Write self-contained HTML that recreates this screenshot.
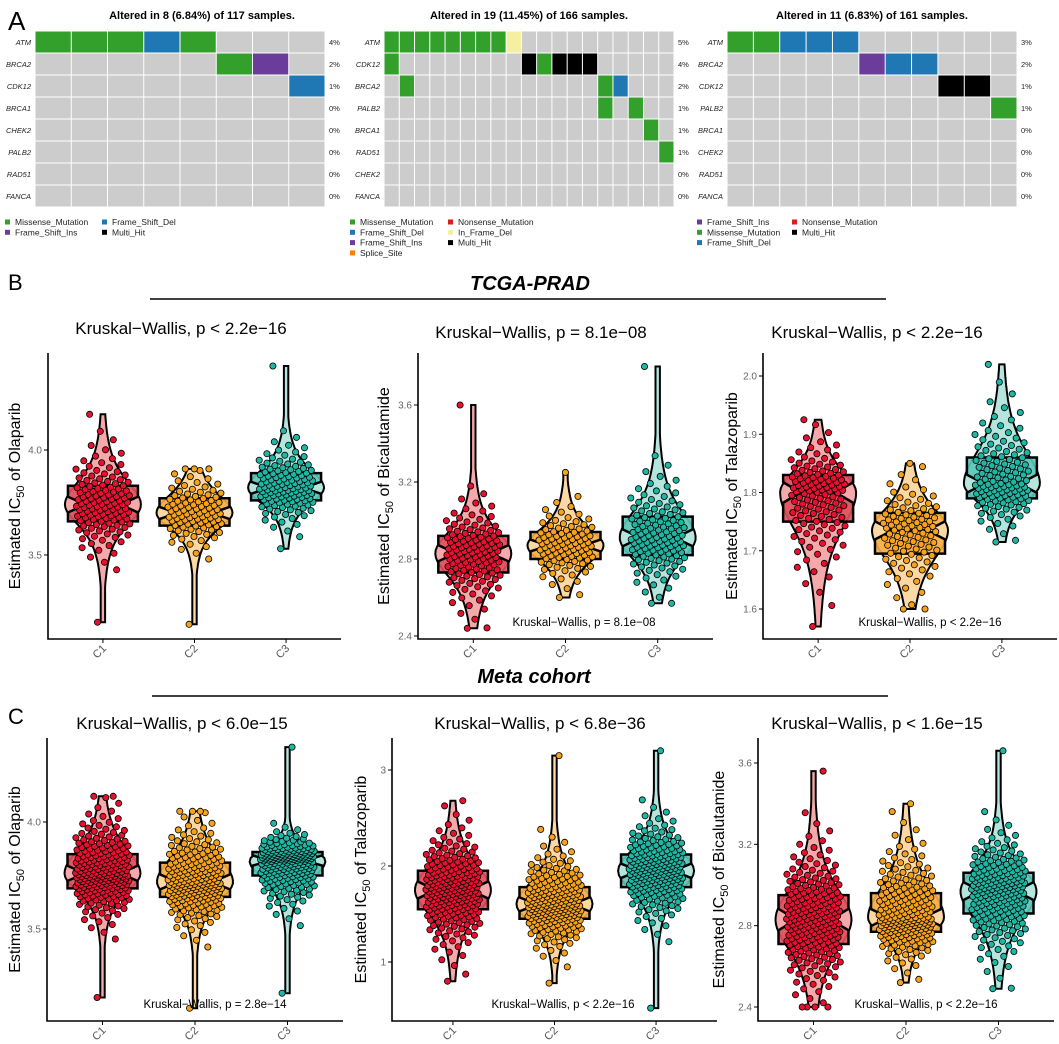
<!DOCTYPE html>
<html><head><meta charset="utf-8"><style>
html,body{margin:0;padding:0;background:#fff;}
svg{display:block;font-family:"Liberation Sans",Arial,sans-serif;}
</style></head><body>
<svg id="fig" width="1059" height="1044" viewBox="0 0 1059 1044" xmlns="http://www.w3.org/2000/svg">
<text x="8" y="30" font-size="26">A</text>
<text x="8" y="290" font-size="22">B</text>
<text x="8" y="724" font-size="22">C</text>
<text x="530" y="290" font-size="20" font-weight="bold" font-style="italic" text-anchor="middle">TCGA-PRAD</text>
<line x1="150" y1="299" x2="886" y2="299" stroke="#000" stroke-width="1.5"/>
<text x="534" y="683" font-size="20" font-weight="bold" font-style="italic" text-anchor="middle">Meta cohort</text>
<line x1="152" y1="696" x2="888" y2="696" stroke="#000" stroke-width="1.5"/>
<g id="onco"></g>
<g id="violins"></g>
</svg>
<script>
// ===== Oncoplot data =====
const oncoTitles = ["Altered in 8 (6.84%) of 117 samples.","Altered in 19 (11.45%) of 166 samples.","Altered in 11 (6.83%) of 161 samples."];
const oncoGenes1 = ["ATM","BRCA2","CDK12","BRCA1","CHEK2","PALB2","RAD51","FANCA"];
const oncoGenes2 = ["ATM","CDK12","BRCA2","PALB2","BRCA1","RAD51","CHEK2","FANCA"];
const oncoGenes3 = ["ATM","BRCA2","CDK12","PALB2","BRCA1","CHEK2","RAD51","FANCA"];
const oncoPct1 = ["4%","2%","1%","0%","0%","0%","0%","0%"];
const oncoPct2 = ["5%","4%","2%","1%","1%","1%","0%","0%"];
const oncoPct3 = ["3%","2%","1%","1%","0%","0%","0%","0%"];
const oncoMut1 = [[0,0,"M"],[0,1,"M"],[0,2,"M"],[0,3,"D"],[0,4,"M"],[1,5,"M"],[1,6,"I"],[2,7,"D"]];
const oncoMut2 = [[0,0,"M"],[0,1,"M"],[0,2,"M"],[0,3,"M"],[0,4,"M"],[0,5,"M"],[0,6,"M"],[0,7,"M"],[0,8,"F"],
 [1,0,"M"],[1,9,"X"],[1,10,"M"],[1,11,"X"],[1,12,"X"],[1,13,"X"],[2,1,"M"],[2,14,"M"],[2,15,"D"],[3,14,"M"],[3,16,"M"],[4,17,"M"],[5,18,"M"]];
const oncoMut3 = [[0,0,"M"],[0,1,"M"],[0,2,"D"],[0,3,"D"],[0,4,"D"],[1,5,"I"],[1,6,"D"],[1,7,"D"],[2,8,"X"],[2,9,"X"],[3,10,"M"]];
const oncoCols = [8,19,11];
const mutColor = {M:"#33a02c",D:"#1f78b4",I:"#6a3d9a",X:"#000000",F:"#f5f0a0",N:"#e31a1c",S:"#ff7f00"};
const leg1 = [["M","Missense_Mutation",0,0],["D","Frame_Shift_Del",1,0],["I","Frame_Shift_Ins",0,1],["X","Multi_Hit",1,1]];
const leg2 = [["M","Missense_Mutation",0,0],["N","Nonsense_Mutation",1,0],["D","Frame_Shift_Del",0,1],["F","In_Frame_Del",1,1],["I","Frame_Shift_Ins",0,2],["X","Multi_Hit",1,2],["S","Splice_Site",0,3]];
const leg3 = [["I","Frame_Shift_Ins",0,0],["N","Nonsense_Mutation",1,0],["M","Missense_Mutation",0,1],["X","Multi_Hit",1,1],["D","Frame_Shift_Del",0,2]];

const NS="http://www.w3.org/2000/svg";
function mk(tag,attrs,parent){const e=document.createElementNS(NS,tag);for(const k in attrs)e.setAttribute(k,attrs[k]);if(parent)parent.appendChild(e);return e;}

const oncoLayout=[{x:35,w:290,lx:5,lx2:102,cx:202},{x:384,w:290,lx:350,lx2:448,cx:529},{x:727,w:290,lx:697,lx2:792,cx:872}];
const oncoG=document.getElementById('onco');
[[oncoGenes1,oncoPct1,oncoMut1,leg1],[oncoGenes2,oncoPct2,oncoMut2,leg2],[oncoGenes3,oncoPct3,oncoMut3,leg3]].forEach((d,pi)=>{
  const L=oncoLayout[pi];const genes=d[0],pct=d[1],muts=d[2],leg=d[3];
  const g=mk('g',{},oncoG);
  
  
  const t=mk('text',{x:L.cx,y:19,'font-size':11,'font-weight':'bold','text-anchor':'middle'},g);t.textContent=oncoTitles[pi];
  
  
  const top=31,rh=22,nc=oncoCols[pi],cw=L.w/nc;
  const types={};muts.forEach(m=>types[m[0]+'_'+m[1]]=m[2]);
  for(let r=0;r<genes.length;r++){
    for(let c=0;c<nc;c++){
      const ty=types[r+'_'+c];
      const cell=mk('rect',{x:L.x+c*cw+0.5,y:top+r*rh+0.5,width:cw-1,height:rh-1,fill:ty?mutColor[ty]:'#cccccc'},g);
      
      
    }
    const gl=mk('text',{x:L.x-4,y:top+r*rh+rh/2+3,'font-size':7.5,'font-style':'italic','text-anchor':'end',fill:'#222'},g);gl.textContent=genes[r];
    
    
    const pl=mk('text',{x:L.x+L.w+4,y:top+r*rh+rh/2+3,'font-size':7.5,fill:'#222'},g);pl.textContent=pct[r];
    
    
  }
  leg.forEach(e=>{
    const lx=e[2]?L.lx2:L.lx, ly=223+e[3]*10.3;
    const lg=mk('g',{},g);
    
    
    mk('rect',{x:lx,y:ly-3.5,width:5,height:5,fill:mutColor[e[0]]},lg);
    const lt=mk('text',{x:lx+10,y:ly+2,'font-size':8.5,fill:'#222'},lg);lt.textContent=e[1];
  });
});

// ===== Violin data: [min,q1,median,q3,max] per group =====
const groups=["C1","C2","C3"];
const statsB1=[[3.18,3.66,3.74,3.83,4.17],[3.17,3.64,3.70,3.77,3.91],[3.53,3.76,3.82,3.89,4.40]];
const statsB2=[[2.44,2.73,2.83,2.92,3.60],[2.60,2.80,2.87,2.94,3.25],[2.57,2.82,2.91,3.02,3.80]];
const statsB3=[[1.57,1.75,1.80,1.83,1.925],[1.60,1.695,1.735,1.765,1.85],[1.715,1.79,1.815,1.86,2.02]];
const statsC1=[[3.18,3.69,3.76,3.85,4.12],[3.13,3.65,3.72,3.81,4.05],[3.20,3.75,3.82,3.86,4.35]];
const statsC2=[[0.80,1.55,1.75,1.95,2.68],[0.78,1.45,1.60,1.78,3.15],[0.52,1.78,1.95,2.12,3.20]];
const statsC3=[[2.40,2.71,2.83,2.95,3.56],[2.52,2.77,2.84,2.96,3.40],[2.49,2.86,2.97,3.06,3.66]];
const countsB=[130,100,130];
const countsC=[230,220,220];
const ticksB1=["3.5","4.0"],ticksB2=["2.4","2.8","3.2","3.6"],ticksB3=["1.6","1.7","1.8","1.9","2.0"];
const ticksC1=["3.5","4.0"],ticksC2=["1","2","3"],ticksC3=["2.4","2.8","3.2","3.6"];
const titles=["Kruskal\u2212Wallis, p < 2.2e\u221216","Kruskal\u2212Wallis, p = 8.1e\u221208","Kruskal\u2212Wallis, p < 2.2e\u221216","Kruskal\u2212Wallis, p < 6.0e\u221215","Kruskal\u2212Wallis, p < 6.8e\u221236","Kruskal\u2212Wallis, p < 1.6e\u221215"];
const inner=[null,"Kruskal\u2212Wallis, p = 8.1e\u221208","Kruskal\u2212Wallis, p < 2.2e\u221216","Kruskal\u2212Wallis, p = 2.8e\u221214","Kruskal\u2212Wallis, p < 2.2e\u221216","Kruskal\u2212Wallis, p < 2.2e\u221216"];
const drugs=["Olaparib","Bicalutamide","Talazoparib","Olaparib","Talazoparib","Bicalutamide"];

const colDot=["#e8102e","#f7a21b","#1db7a3"],colBox=["#e0505c","#f7ad48","#5cc6b8"],colVio=["#f5a9aa","#fcd9a4","#b5e5dd"];
const lay=[
 {x0:48,x1:341,top:353,bot:639,va:3.5,pa:555,vb:4.0,pb:450,tcx:181,tby:334,ylx:20,inx:0,iny:0},
 {x0:418,x1:713,top:353,bot:639,va:2.4,pa:636,vb:3.6,pb:405,tcx:541,tby:338,ylx:389,inx:584,iny:626},
 {x0:763,x1:1057,top:353,bot:639,va:1.6,pa:609,vb:2.0,pb:376,tcx:877,tby:338,ylx:737,inx:930,iny:626},
 {x0:47,x1:343,top:738,bot:1021,va:3.5,pa:929,vb:4.0,pb:822,tcx:182,tby:729,ylx:20,inx:215,iny:1008},
 {x0:392,x1:717,top:738,bot:1021,va:1,pa:962,vb:3,pb:770,tcx:540,tby:729,ylx:366,inx:563,iny:1008},
 {x0:758,x1:1054,top:738,bot:1021,va:2.4,pa:1007,vb:3.6,pb:763,tcx:877,tby:729,ylx:724,inx:926,iny:1008}];
const allStats=[statsB1,statsB2,statsB3,statsC1,statsC2,statsC3];
const allTicks=[ticksB1,ticksB2,ticksB3,ticksC1,ticksC2,ticksC3];
const vg=document.getElementById('violins');

allStats.forEach((stats,pi)=>{
  const L=lay[pi];
  const y=v=>L.pa+(v-L.va)*(L.pb-L.pa)/(L.vb-L.va);
  const sp=(L.x1-L.x0)/3.2;
  const xc=i=>L.x0+(i+0.6)*sp;
  const counts=pi<3?countsB:countsC;
  const g=mk('g',{},vg);
  
  
  const tt=mk('text',{x:L.tcx,y:L.tby,'font-size':17,'text-anchor':'middle'},g);tt.textContent=titles[pi];
  
  
  stats.forEach((s,i)=>{
    const [mn,q1,md,q3,mx]=s;const cx=xc(i);
    const sLo=(md-q1)/0.674,sHi=(q3-md)/0.674;
    const W=38;
    const hw=v=>{const z=(v-md)/(v<md?sLo:sHi);return Math.max(2.2,W/Math.pow(1+z*z/2.2,1.6));};
    let pts=[],N=60;
    for(let k=0;k<=N;k++){const v=mn+(mx-mn)*k/N;pts.push([cx+hw(v),y(v)]);}
    for(let k=N;k>=0;k--){const v=mn+(mx-mn)*k/N;pts.push([cx-hw(v),y(v)]);}
    const vio=mk('path',{d:'M'+pts.map(p=>p[0].toFixed(1)+','+p[1].toFixed(1)).join('L')+'Z',fill:colVio[i],stroke:'#000','stroke-width':2},g);
    
    
    const bw=35,ins=bw*0.5,nt=0.22*(q3-q1);
    const l=cx-bw,r=cx+bw;
    const d=`M${l},${y(q3)}L${r},${y(q3)}L${r},${y(md+nt)}L${r-ins},${y(md)}L${r},${y(md-nt)}L${r},${y(q1)}L${l},${y(q1)}L${l},${y(md-nt)}L${l+ins},${y(md)}L${l},${y(md+nt)}Z`;
    const bx=mk('path',{d:d,fill:colBox[i],'fill-opacity':0.9,stroke:'#000','stroke-width':2.5},g);
    
    
    mk('line',{x1:l+ins,x2:r-ins,y1:y(md),y2:y(md),stroke:'#000','stroke-width':2.5},g);
    const n=counts[i];
    for(let j=0;j<n;j++){
      let v;
      if(j===0)v=mn;else if(j===n-1)v=mx;else{const p=(j+0.5)/n;const z=Math.log(p/(1-p))/1.702;v=md+z*(z<0?sLo:sHi);v=Math.min(mx,Math.max(mn,v));}
      const f=((j*0.6180339+0.31)%1)*2-1;
      const dx=f*Math.min(27,hw(v)+12);
      const c=mk('circle',{cx:(cx+dx).toFixed(1),cy:y(v).toFixed(1),r:3.1,fill:colDot[i],stroke:'#000','stroke-width':0.8},g);
      
      
    }
    mk('line',{x1:cx,x2:cx,y1:L.bot,y2:L.bot+4,stroke:'#000','stroke-width':1},g);
    const xl=mk('text',{x:0,y:0,'font-size':11,fill:'#555','text-anchor':'end',transform:`translate(${cx+4},${L.bot+10}) rotate(-45)`},g);xl.textContent=groups[i];
    
    
  });
  const ax=mk('path',{d:`M${L.x0},${L.top}L${L.x0},${L.bot}L${L.x1},${L.bot}`,fill:'none',stroke:'#000','stroke-width':1.6},g);
  
  
  allTicks[pi].forEach(tv=>{
    const v=parseFloat(tv),py=y(v);
    mk('line',{x1:L.x0-4,x2:L.x0,y1:py,y2:py,stroke:'#000','stroke-width':1},g);
    const tl=mk('text',{x:L.x0-6,y:py+3.5,'font-size':10,fill:'#666','text-anchor':'end'},g);tl.textContent=tv;
    
    
  });
  const cy=(L.top+L.bot)/2;
  const yl=mk('text',{x:0,y:0,'font-size':16,'text-anchor':'middle',transform:`translate(${L.ylx},${cy}) rotate(-90)`},g);
  
  
  yl.innerHTML='Estimated IC<tspan font-size="11" dy="4">50</tspan><tspan dy="-4"> of '+drugs[pi]+'</tspan>';
  if(inner[pi]){const it=mk('text',{x:L.inx,y:L.iny,'font-size':11.5,'text-anchor':'middle'},g);it.textContent=inner[pi];
    
    }
});
</script>
</body></html>
